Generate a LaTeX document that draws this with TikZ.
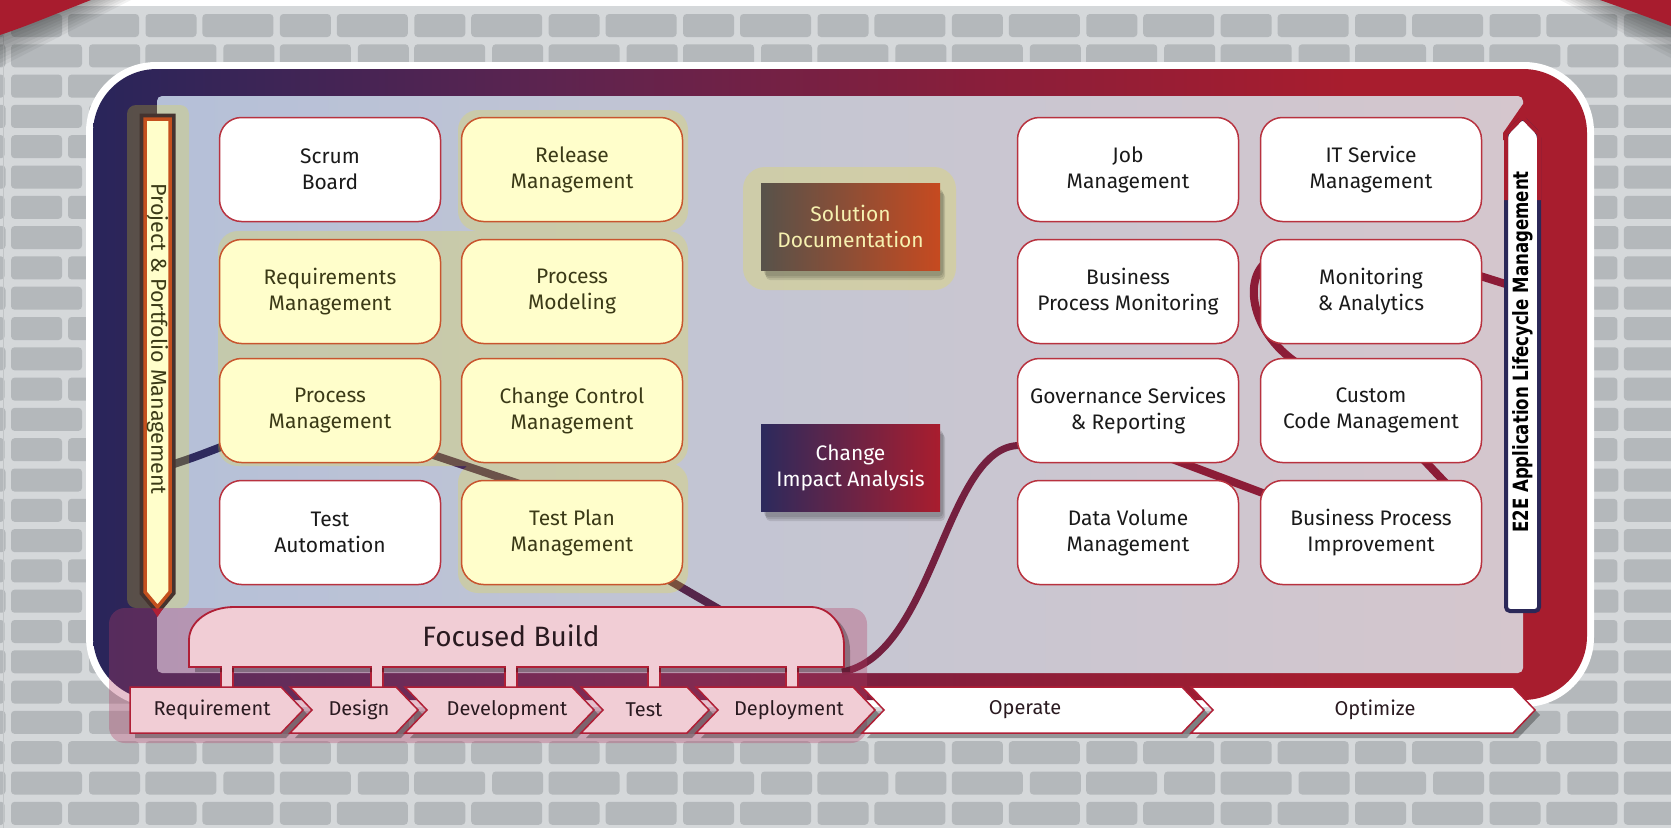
\documentclass[tikz,border=0pt]{standalone}
\usepackage{fontspec}
\setmainfont{Fira Sans}
\newfontfamily\labelfont{DejaVu Sans}
\usetikzlibrary{calc}
\definecolor{bgc}{HTML}{D5D8DA}
\definecolor{brick}{HTML}{B4B8BB}
\definecolor{bgline}{HTML}{C2C5C7}
\definecolor{ribbon}{HTML}{A81C2E}
\definecolor{fr1}{HTML}{29255A}
\definecolor{fr2}{HTML}{5C2450}
\definecolor{fr3}{HTML}{8A1E3A}
\definecolor{fr4}{HTML}{A81D2E}
\definecolor{pnL}{HTML}{B5C0D8}
\definecolor{pnM}{HTML}{C6C6D2}
\definecolor{pnR}{HTML}{D5C6CD}
\definecolor{boxred}{HTML}{B8323F}
\definecolor{boxorange}{HTML}{C8552E}
\definecolor{yel}{HTML}{FFFECB}
\definecolor{txtolive}{HTML}{3B3A17}
\definecolor{txtdark}{HTML}{1A1A1A}
\definecolor{glowc}{RGB}{245,230,20}
\definecolor{ppmorange}{HTML}{C4501E}
\definecolor{ppmdark}{HTML}{45332F}
\definecolor{mauve}{RGB}{180,60,100}
\definecolor{pinkc}{HTML}{F1CDD5}
\definecolor{fbred}{HTML}{B01F36}
\definecolor{chtxt}{HTML}{2A1A20}
\definecolor{curveN}{HTML}{2E2A5E}
\definecolor{curveP}{HTML}{45295A}
\definecolor{curveQ}{HTML}{55254A}
\definecolor{curveM}{HTML}{74203F}
\definecolor{curveR}{HTML}{8C1C37}
\definecolor{solL}{HTML}{57524A}
\definecolor{solR}{HTML}{C64A20}
\definecolor{soltxt}{HTML}{F6F1B0}
\definecolor{chgL}{HTML}{2C2A5D}
\definecolor{chgR}{HTML}{A91D2E}
\definecolor{navyc}{HTML}{2B2858}
\pgfdeclarehorizontalshading{frameshade}{100bp}{color(0bp)=(fr1); color(25bp)=(fr1); color(40bp)=(fr2); color(55bp)=(fr3); color(67bp)=(fr4); color(100bp)=(fr4)}
\pgfdeclarelayer{back}
\pgfdeclarelayer{curves}
\pgfdeclarelayer{glowlayer}
\pgfsetlayers{back,curves,glowlayer,main}
\tikzset{
  boxbase/.style={rounded corners=22pt, minimum width=221pt, minimum height=104pt, align=center, line width=1.5pt, font=\fontsize{21}{26}\selectfont, inner sep=2pt},
  wbox/.style={boxbase, draw=boxred, fill=white, text=txtdark},
  ybox/.style={boxbase, draw=boxorange, fill=yel, text=txtolive},
  glow/.style={fill=glowc, fill opacity=0.22},
  curve/.style={line width=8pt},
  chevtxt/.style={font=\fontsize{20}{20}\selectfont, text=chtxt},
  midbox/.style={minimum width=179pt, minimum height=87pt, align=center, font=\fontsize{21}{26}\selectfont, inner sep=2pt},
  brickbox/.style={fill=brick, rounded corners=3.5pt},
  softshadow/.style={fill=black, fill opacity=0.1, rounded corners=4pt}
}
\begin{document}
\begin{tikzpicture}[x=1pt,y=-1pt]
\useasboundingbox (0,0) rectangle (1671,828);
\clip (0,0) rectangle (1671,828);

\begin{pgfonlayer}{back}
\fill[bgc] (0,0) rectangle (1671,828);
\foreach \r in {0,...,26}{
  \pgfmathsetmacro{\yy}{14+30.3*\r}
  \ifodd\r \def\wo{11}\def\no{89}\else \def\wo{68}\def\no{145.5}\fi
  \foreach \k in {-1,...,12}{
    \fill[brickbox] ({\wo+134.4*\k},\yy) rectangle ++(71,23);
    \fill[brickbox] ({\no+134.4*\k},\yy) rectangle ++(51,23);
  }
}
\fill[white] (0,0) rectangle (1671,6);
\draw[bgline, line width=1.5pt] (3.5,6) -- (3.5,828);
% corner ribbons with shadows
\foreach \i in {1,...,8}{
  \fill[black, opacity=0.05] (0,0) -- ({91+5*\i},0) -- (0,{35+4*\i}) -- cycle;
  \fill[black, opacity=0.05] ({1600-5*\i},0) -- (1671,0) -- (1671,{26+4*\i}) -- cycle;
}
\fill[ribbon] (0,0) -- (91,0) .. controls (60,12) and (30,25) .. (0,35) -- cycle;
\fill[ribbon] (1600,0) -- (1671,0) -- (1671,26) .. controls (1645,16) and (1620,7) .. (1600,0) -- cycle;
% frame
\fill[white, rounded corners=70pt] (86,62) rectangle (1594,707);
\shade[shading=frameshade, rounded corners=64pt] (93,69) rectangle (1587,700);
\shade[left color=pnL, right color=pnR, middle color=pnM, rounded corners=5pt] (157,96) rectangle (1523,673);
\fill[fr4] (1503,140) -- (1503,133) -- (1523,104) -- (1545,104) -- (1545,140) -- cycle;
\end{pgfonlayer}

% ---------- main layer: nodes ----------
\coordinate (ppmR) at (171,465);
\coordinate (fbR) at (842,672);
\coordinate (fbtop) at (722,611);
\coordinate (e2eL) at (1512,286);

% Project & Portfolio bar
\draw[ppmdark, line width=11pt, line join=miter] (145,119) -- (170,119) -- (170,592) -- (157.5,607) -- (145,592) -- cycle;
\draw[fill=yel, draw=ppmorange, line width=3.5pt, line join=miter] (145,119) -- (170,119) -- (170,592) -- (157.5,607) -- (145,592) -- cycle;
\node[rotate=-90, text=txtolive, font=\fontsize{21.5}{21.5}\selectfont] (ppm) at (157.5,339) {Project \& Portfolio Management};

% Focused Build backdrop
\fill[mauve, fill opacity=0.32, rounded corners=16pt] (109,608) rectangle (867,743);
\fill[fbred] (152,608.5) -- (163,608.5) -- (157.5,617) -- cycle;

% boxes
\node[wbox] (scrum) at (330,169.5) {Scrum\\Board};
\node[ybox] (rel) at (572,169.5) {Release\\Management};
\node[ybox] (req) at (330,291.5) {Requirements\\Management};
\node[ybox] (pmod) at (572,291.5) {Process\\Modeling};
\node[ybox] (pm) at (330,410.5) {Process\\Management};
\node[ybox] (ccm) at (572,410.5) {Change Control\\Management};
\node[wbox] (ta) at (330,532.5) {Test\\Automation};
\node[ybox] (tpm) at (572,532.5) {Test Plan\\Management};
\node[wbox] (job) at (1128,169.5) {Job\\Management};
\node[wbox] (itsm) at (1371,169.5) {IT Service\\Management};
\node[wbox] (bpm) at (1128,291.5) {Business\\Process Monitoring};
\node[wbox] (mon) at (1371,291.5) {Monitoring\\\& Analytics};
\node[wbox] (gov) at (1128,410.5) {Governance Services\\\& Reporting};
\node[wbox] (ccode) at (1371,410.5) {Custom\\Code Management};
\node[wbox] (dvm) at (1128,532.5) {Data Volume\\Management};
\node[wbox] (bpi) at (1371,532.5) {Business Process\\Improvement};

% solution documentation / change impact
\foreach \i in {1,2,3}{
  \fill[softshadow] ({763+\i},{187+2*\i}) rectangle ({942+\i},{274+2*\i});
  \fill[softshadow] ({763+\i},{428+2*\i}) rectangle ({942+\i},{515+2*\i});
}
\node[midbox, left color=solL, right color=solR, text=soltxt] (sol) at (850.5,226.5) {Solution\\Documentation};
\node[midbox, left color=chgL, right color=chgR, text=white] (chg) at (850.5,467.5) {Change\\Impact Analysis};

% E2E bar
\draw[fill=white, draw=navyc, line width=4pt, rounded corners=4pt] (1506,611) -- (1506,134) -- (1522.5,117) -- (1539,134) -- (1539,611) -- cycle;
\draw[fr4, line width=4pt, line join=miter] (1506,200) -- (1506,134) -- (1522.5,117) -- (1539,134) -- (1539,200);
\node[rotate=90, text=black] (e2e) at (1522.5,352) {\scalebox{0.79}[1]{\labelfont\bfseries\fontsize{21}{21}\selectfont E2E Application Lifecycle Management}};

% chevron shadows
\foreach \xa/\xb/\nd in {130/303/0, 290/418/22, 405/594/22, 581/709/22, 696/875/22, 862/1204/22, 1191/1535/22}{
  \fill[black, fill opacity=0.3, shift={(5,5)}] (\xa,687) -- ({\xb-22},687) -- (\xb,710) -- ({\xb-22},733) -- (\xa,733) -- ({\xa+\nd},710) -- cycle;
}
% stubs
\foreach \sx in {227,377,511,654,792}{
  \draw[fill=pinkc, draw=fbred, line width=1.5pt] ({\sx-6},660) rectangle ({\sx+6},688);
}
% Focused Build shape
\fill[black, fill opacity=0.28, shift={(6,5)}] (189,667) -- (189,640) .. controls (189,621.8) and (209,607) .. (234,607) -- (811,607) .. controls (829.2,607) and (844,625) .. (844,645) -- (844,667) -- cycle;
\draw[fill=pinkc, draw=fbred, line width=1.8pt] (189,667) -- (189,640) .. controls (189,621.8) and (209,607) .. (234,607) -- (811,607) .. controls (829.2,607) and (844,625) .. (844,645) -- (844,667) -- cycle;
\foreach \sx in {227,377,511,654,792}{
  \fill[pinkc] ({\sx-5.2},662) rectangle ({\sx+5.2},686);
}
\node[font=\fontsize{28}{28}\selectfont, text=chtxt] (fb) at (511,636) {Focused Build};

% chevrons
\foreach \xa/\xb/\nd/\fc/\nm/\lx/\tx in {130/303/0/pinkc/chreq/212/Requirement, 290/418/22/pinkc/chdes/359/Design, 405/594/22/pinkc/chdev/507/Development, 581/709/22/pinkc/chtest/644/Test, 696/875/22/pinkc/chdep/789/Deployment, 862/1204/22/white/chop/1025/Operate, 1191/1535/22/white/chopt/1375/Optimize}{
  \draw[fill=\fc, draw=fbred, line width=1.5pt] (\xa,687) -- ({\xb-22},687) -- (\xb,710) -- ({\xb-22},733) -- (\xa,733) -- ({\xa+\nd},710) -- cycle;
  \node[chevtxt] (\nm) at (\lx,710) {\tx};
}

% ---------- curves ----------
\begin{pgfonlayer}{curves}
\draw[curveN, curve] (ppmR) .. controls (195,457) .. ($(pm.west)+(6,35)$);
\draw[curveP, curve] ($(pm.south east)+(-25,-14)$) -- ($(tpm.north west)+(70,8)$);
\draw[curveQ, curve] ($(tpm.south east)+(-40,-20)$) -- (fbtop);
\draw[curveM, line width=7pt] (fbR) .. controls (935,655) and (945,445) .. ($(gov.west)+(3,35)$);
\draw[curveR, curve] ($(gov.center)+(12,36.5)$) -- ($(bpi.center)+(-71,-25.5)$);
\draw[curveR, curve] ($(ccode.center)+(34,29.5)$) -- ($(bpi.center)+(84,-39.5)$);
\draw[curveR, curve] ($(mon.center)+(-91,-36.5)$) .. controls (1240,265) and (1245,330) .. ($(ccode.center)+(-71,-45.5)$);
\draw[curveR, curve] ($(mon.east)+(-10,-18)$) -- (e2eL);
\end{pgfonlayer}

% ---------- translucent highlights ----------
\begin{pgfonlayer}{glowlayer}
\fill[glow, rounded corners=9pt] (127,105) rectangle (189,608);
\fill[glow, rounded corners=20pt] (458,110) rectangle (688,231) (218,231) rectangle (688,466) (458,463) rectangle (688,593);
\fill[glow, rounded corners=22pt] (743,167) rectangle (956,290);
\end{pgfonlayer}
\end{tikzpicture}
\end{document}
